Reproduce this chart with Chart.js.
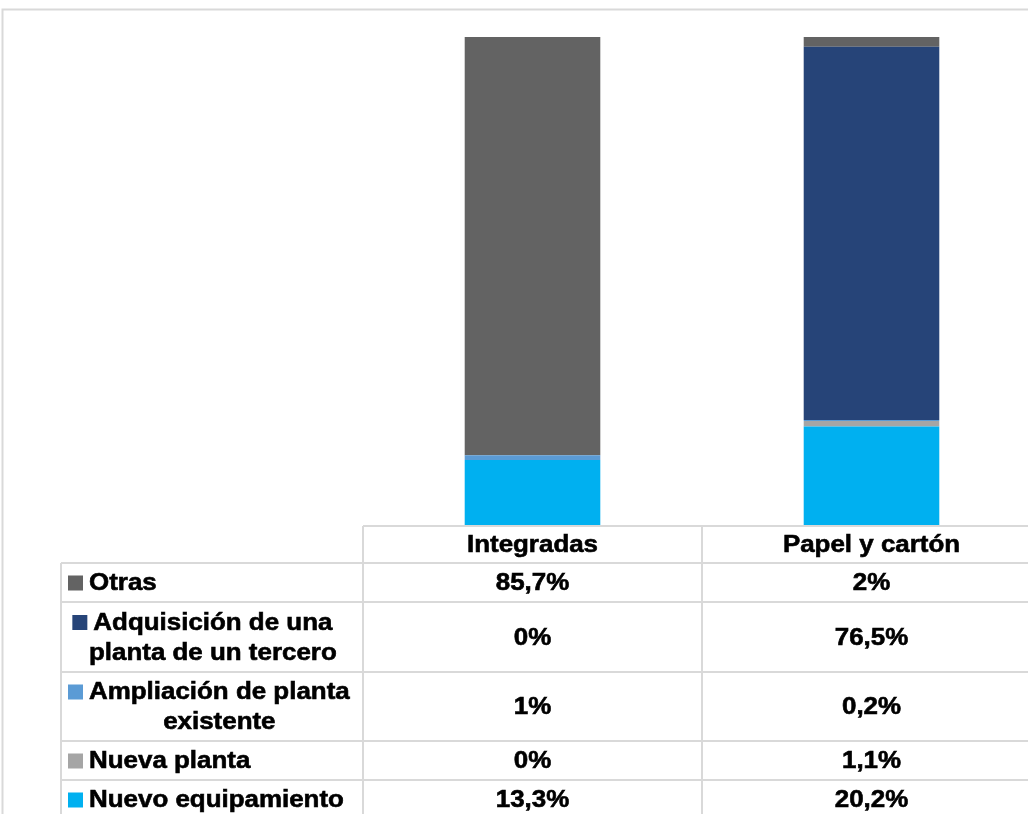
<!DOCTYPE html>
<html>
<head>
<meta charset="utf-8">
<script src="https://cdn.jsdelivr.net/npm/chart.js@4"></script>
<style>
html,body{margin:0;padding:0;background:#fff;overflow:hidden;}
#wrap{width:1045px;height:814px;position:relative;}
</style>
</head>
<body>
<div id="wrap"><canvas id="c" width="1045" height="814"></canvas></div>
<script>
const categories = ["Integradas", "Papel y cartón"];
const seriesNames = ["Nuevo equipamiento", "Nueva planta", "Ampliación de planta existente", "Adquisición de una planta de un tercero", "Otras"];
const nuevoEquipamiento = [13.3, 20.2];
const nuevaPlanta = [0, 1.1];
const ampliacion = [1, 0.2];
const adquisicion = [0, 76.5];
const otras = [85.7, 2];
const seriesColors = ["#00B0F0", "#A5A5A5", "#5B9BD5", "#264478", "#636363"];
// label lines as they wrap in the data table
const labelLines = [["Nuevo equipamiento"], ["Nueva planta"], ["Ampliación de planta", "existente"], ["Adquisición de una", "planta de un tercero"], ["Otras"]];

const values = [nuevoEquipamiento, nuevaPlanta, ampliacion, adquisicion, otras];

const FONT = 'bold 24px "Liberation Sans", Arial, sans-serif';
const SX = 1.08;
const LINE = '#D9D9D9';

function fmt(v){ return String(v).replace('.', ',') + '%'; }

function drawText(ctx, txt, x, y, align){
  ctx.save();
  ctx.font = FONT;
  const w = ctx.measureText(txt).width * SX;
  let left = x;
  if (align === 'center') left = x - w/2;
  ctx.translate(left, y);
  ctx.scale(SX, 1);
  ctx.textAlign = 'left';
  ctx.textBaseline = 'middle';
  ctx.fillStyle = '#000';
  ctx.strokeStyle = '#000';
  ctx.lineWidth = 0.6;
  ctx.fillText(txt, 0, 0);
  ctx.strokeText(txt, 0, 0);
  ctx.restore();
  return w;
}

const tablePlugin = {
  id: 'dataTable',
  afterDraw(chart){
    const ctx = chart.ctx;
    const xs = chart.scales.x;
    const area = chart.chartArea;
    const colW = (area.right - area.left) / categories.length;
    const headerTop = area.bottom + 1;
    const headerBottom = headerTop + 37;
    const rowHeights = [39, 70, 69, 39, 39];
    const rows = [];
    let y = headerBottom;
    for (let i = 0; i < rowHeights.length; i++){ rows.push([y, y + rowHeights[i]]); y += rowHeights[i]; }
    const labelLeft = 61;
    ctx.save();
    ctx.strokeStyle = LINE;
    ctx.lineWidth = 2;
    ctx.strokeRect(2.5, 9.5, 1100, 900);
    ctx.beginPath();
    ctx.moveTo(area.left, headerTop); ctx.lineTo(1045, headerTop);
    for (const r of rows){ ctx.moveTo(labelLeft, r[0]); ctx.lineTo(1045, r[0]); }
    ctx.moveTo(labelLeft, rows[rows.length-1][1]); ctx.lineTo(1045, rows[rows.length-1][1]);
    ctx.moveTo(labelLeft, headerBottom); ctx.lineTo(labelLeft, 830);
    for (let c = 0; c <= categories.length; c++){
      const x = area.left + c*colW;
      ctx.moveTo(x, headerTop); ctx.lineTo(x, 830);
    }
    ctx.stroke();
    ctx.restore();
    categories.forEach((cat, i) => {
      drawText(ctx, cat, xs.getPixelForValue(i), (headerTop + headerBottom)/2 + 1, 'center');
    });
    for (let r = 0; r < rows.length; r++){
      const si = seriesNames.length - 1 - r;
      const [top, bot] = rows[r];
      const cy = (top + bot)/2;
      const lines = labelLines[si];
      ctx.save(); ctx.font = FONT;
      const widths = lines.map(l => ctx.measureText(l).width * SX);
      ctx.restore();
      const maxW = Math.max(...widths);
      const textStart = 89;
      const blockCenter = textStart + maxW/2;
      const lh = 30;
      const y0 = cy - (lines.length - 1) * lh / 2;
      let firstLeft = textStart;
      lines.forEach((l, k) => {
        const left = blockCenter - widths[k]/2;
        if (k === 0) firstLeft = left;
        drawText(ctx, l, left, y0 + k*lh + 1, 'left');
      });
      ctx.save();
      ctx.fillStyle = seriesColors[si];
      ctx.fillRect(firstLeft - 21, y0 - 7, 15, 15);
      ctx.restore();
      categories.forEach((cat, i) => {
        drawText(ctx, fmt(values[si][i]), xs.getPixelForValue(i), cy + 1, 'center');
      });
    }
  }
};

const datasets = seriesNames.map((name, i) => ({
  label: name,
  data: values[i],
  backgroundColor: seriesColors[i],
  borderWidth: 0,
  categoryPercentage: 0.4,
  barPercentage: 1
}));

new Chart(document.getElementById('c'), {
  type: 'bar',
  data: { labels: categories, datasets },
  options: {
    responsive: false,
    animation: false,
    layout: { padding: { top: 37, bottom: 289, left: 363, right: 4 } },
    plugins: { legend: { display: false }, tooltip: { enabled: false } },
    scales: {
      x: { stacked: true, display: false },
      y: { stacked: true, display: false, min: 0, max: 100 }
    }
  },
  plugins: [tablePlugin]
});
</script>
</body>
</html>
